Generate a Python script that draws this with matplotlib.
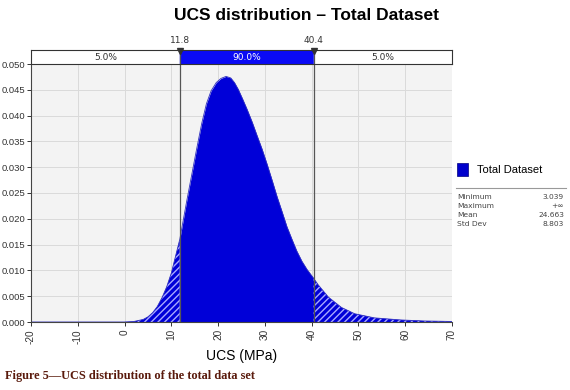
import numpy as np
import matplotlib
matplotlib.use('Agg')
import matplotlib.pyplot as plt

# density curve (UCS in MPa, probability density)
ucs = [-20, 0, 2, 4, 5, 6, 7, 8, 9, 10, 11.8, 13.3, 15.4, 16.5, 17.5, 18.5, 19.6, 20.6,
       21.7, 22.7, 23.5, 24.3, 25.2, 26.2, 27.3, 28.3, 29.4, 30.5, 31.6, 32.6, 33.7,
       34.7, 35.8, 36.8, 37.9, 39.0, 40.4, 41.4, 43.6, 46.4, 49.2, 53.4, 59, 64, 70]
density = [0, 0, 0.0001, 0.0005, 0.0010, 0.0018, 0.0030, 0.0047, 0.0068, 0.0095,
           0.0160, 0.0235, 0.0335, 0.0385, 0.0423, 0.0448, 0.0464, 0.0472, 0.0476,
           0.0473, 0.0464, 0.0451, 0.0433, 0.0412, 0.0387, 0.0362, 0.0335, 0.0305,
           0.0273, 0.0243, 0.0213, 0.0185, 0.0160, 0.0138, 0.0118, 0.0102, 0.0085,
           0.0072, 0.0048, 0.0028, 0.0016, 0.0008, 0.0004, 0.0002, 0.0001]

lowCut = 11.8
highCut = 40.4
bandLabels = ['5.0%', '90.0%', '5.0%']
statNames = ['Minimum', 'Maximum', 'Mean', 'Std Dev']
statValues = ['3.039', '+\u221e', '24.663', '8.803']

W, H = 570, 390
def fx(px):
    return px / W
def fy(py):
    return 1 - py / H

blue = '#0000d8'
plt.rcParams['hatch.linewidth'] = 1.0
plt.rcParams['axes.unicode_minus'] = False

fig = plt.figure(figsize=(5.7, 3.9), dpi=100)
fig.patch.set_facecolor('white')

# main plot area
left, right, top, bottom = 31, 452, 64, 322
ax = fig.add_axes([fx(left), fy(bottom), fx(right) - fx(left), fy(top) - fy(bottom)])
ax.set_facecolor('#f3f3f3')
x = np.array(ucs)
y = np.array(density)
ax.fill_between(x, y, where=x <= lowCut, facecolor=blue, edgecolor='#a8a8ff', hatch='/////', linewidth=0)
ax.fill_between(x, y, where=(x >= lowCut) & (x <= highCut), facecolor=blue, edgecolor=blue, linewidth=0)
ax.fill_between(x, y, where=x >= highCut, facecolor=blue, edgecolor='#a8a8ff', hatch='/////', linewidth=0)
ax.plot(x, y, color='#3030c0', lw=0.6)
ax.axvline(lowCut, color='#555555', lw=0.9, zorder=5)
ax.axvline(highCut, color='#555555', lw=0.9, zorder=5)

ax.set_xlim(-20, 70)
ax.set_ylim(0, 0.050)
ax.set_xticks(np.arange(-20, 71, 10))
ax.set_yticks(np.arange(0, 0.0501, 0.005))
ax.set_yticklabels(['%.3f' % v for v in np.arange(0, 0.0501, 0.005)])
ax.grid(True, color='#dadada', lw=0.7)
ax.set_axisbelow(True)
for s in ['top', 'right']:
    ax.spines[s].set_visible(False)
for s in ['left', 'bottom']:
    ax.spines[s].set_color('#444444')
    ax.spines[s].set_linewidth(0.8)
ax.tick_params(axis='y', labelsize=6.8, colors='#333333', length=3, width=0.7, pad=1)
ax.tick_params(axis='x', labelsize=7.2, colors='#333333', length=3, width=0.7, pad=2)
for lbl in ax.get_xticklabels() + ax.get_yticklabels():
    lbl.set_family('Liberation Sans')
plt.setp(ax.get_xticklabels(), rotation=90)
ax.set_xlabel('UCS (MPa)', fontsize=10, family='Liberation Sans', labelpad=4)

# percentile band on top
band = fig.add_axes([fx(left), fy(top), fx(right) - fx(left), fy(50) - fy(top)])
band.set_xlim(-20, 70)
band.set_ylim(0, 1)
band.axvspan(-20, lowCut, color='white')
band.axvspan(lowCut, highCut, color='#0a0af5')
band.axvspan(highCut, 70, color='white')
band.set_xticks([])
band.set_yticks([])
for s in band.spines.values():
    s.set_color('#333333')
    s.set_linewidth(0.8)
band.text((-20 + lowCut) / 2, 0.45, bandLabels[0], ha='center', va='center', fontsize=6.5, color='#333333')
band.text((lowCut + highCut) / 2, 0.45, bandLabels[1], ha='center', va='center', fontsize=6.5, color='white')
band.text((highCut + 70) / 2, 0.45, bandLabels[2], ha='center', va='center', fontsize=6.5, color='#333333')
for cut in [lowCut, highCut]:
    band.axvline(cut, color='#555555', lw=0.9)
    band.plot([cut], [0.95], marker='v', color='#333333', markersize=5, clip_on=False)
    band.text(cut, 1.35, '%.1f' % cut, ha='center', va='bottom', fontsize=6.5, color='#333333')

# title
fig.text(fx(306), fy(16), 'UCS distribution \u2013 Total Dataset', ha='center', va='center',
         fontsize=12.5, fontweight='bold', family='Liberation Sans')

# legend panel
fig.patches.append(plt.Rectangle((fx(457), fy(176)), fx(11), fy(163) - fy(176), transform=fig.transFigure,
                                 facecolor='#0000cc', edgecolor='#000080', lw=0.5))
fig.text(fx(477), fy(170), 'Total Dataset', ha='left', va='center', fontsize=8, family='Liberation Sans')
fig.lines.append(plt.Line2D([fx(456), fx(566)], [fy(188), fy(188)], transform=fig.transFigure, color='#999999', lw=0.8))
for i, (n, v) in enumerate(zip(statNames, statValues)):
    yy = fy(197 + i * 9)
    fig.text(fx(457), yy, n, ha='left', va='center', fontsize=5.4, color='#444444')
    fig.text(fx(564), yy, v, ha='right', va='center', fontsize=5.4, color='#444444')

# caption
fig.text(fx(5), fy(376), 'Figure 5\u2014UCS distribution of the total data set', ha='left', va='center',
         fontsize=8.8, fontweight='bold', family='Liberation Serif', color='#5a1a0c')

fig.savefig('out.png', dpi=100)
